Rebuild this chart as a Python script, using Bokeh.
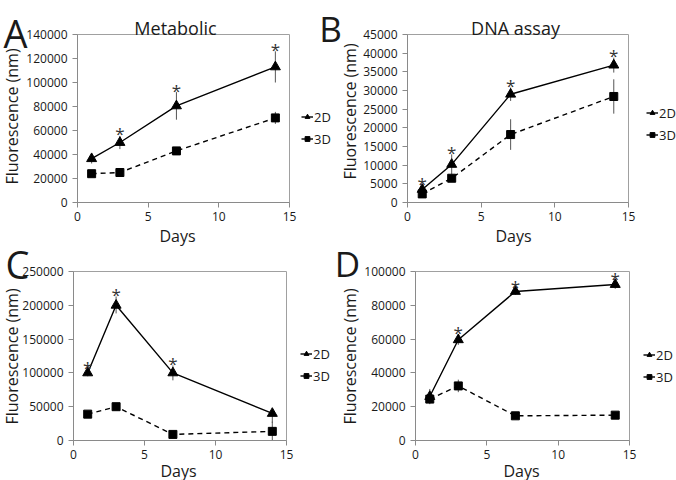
import math
from bokeh.plotting import figure
from bokeh.models import (Range1d, FixedTicker, BasicTickFormatter, Label, Legend,
                          LegendItem, GridBox)
from bokeh.layouts import column, row
from bokeh.embed import file_html
from bokeh.resources import INLINE
from bokeh.core.properties import value

FONT = "Open Sans"
NAN = float("nan")

# ---------------- data ----------------
days = [1, 3, 7, 14]
x_ticks = [0, 5, 10, 15]

# A: Metabolic
A_2d = [36500, 50000, 80500, 113000]
A_2d_err = [4000, 5500, 11500, 13000]
A_3d = [24000, 25000, 43000, 70500]
A_3d_err = [2000, 3500, 2000, 5000]
A_sig = [False, True, True, True]
A_yticks = [0, 20000, 40000, 60000, 80000, 100000, 120000, 140000]

# B: DNA assay
B_2d = [3500, 10200, 29000, 36800]
B_2d_err = [1000, 2700, 1800, 2000]
B_3d = [2300, 6500, 18200, 28400]
B_3d_err = [800, 800, 4100, 4600]
B_sig = [True, True, True, True]
B_yticks = [0, 5000, 10000, 15000, 20000, 25000, 30000, 35000, 40000, 45000]

# C
C_2d = [100000, 200000, 100000, 40000]
C_2d_err_hi = [5000, 13000, 11000, 1000]
C_2d_err_lo = [5000, 12000, 11000, 14000]
C_3d = [39000, 50000, 9000, 13500]
C_3d_err = [2000, 2000, 1500, 14500]
C_sig = [True, True, True, False]
C_yticks = [0, 50000, 100000, 150000, 200000, 250000]

# D
D_2d = [26000, 59600, 88200, 92300]
D_2d_err = [4500, 3000, 2000, 2500]
D_3d = [24500, 32300, 14600, 15000]
D_3d_err = [2500, 3700, 1000, 1000]
D_sig = [False, True, True, True]
D_yticks = [0, 20000, 40000, 60000, 80000, 100000]

series_labels = ["2D", "3D"]
titles = ["Metabolic", "DNA assay"]
letters = ["A", "B", "C", "D"]
x_label = "Days"
y_label = "Fluorescence (nm)"

AXIS_GRAY = "#8a8a8a"
TEXT = "#1a1a1a"


def panel(W, H, bl, br, bt, bb, ymax, yticks, d2, lo2, hi2, d3, e3, sig):
    p = figure(width=W, height=H, x_range=Range1d(0, 15), y_range=Range1d(0, ymax),
               output_backend="svg", toolbar_location=None,
               min_border_left=bl, min_border_right=br,
               min_border_top=bt, min_border_bottom=bb)
    p.outline_line_color = "#a0a0a0"
    p.outline_line_width = 1
    p.background_fill_color = "white"
    p.border_fill_color = "white"
    p.xgrid.visible = False
    p.ygrid.visible = False
    for ax in (p.xaxis[0], p.yaxis[0]):
        ax.axis_line_color = AXIS_GRAY
        ax.major_tick_line_color = AXIS_GRAY
        ax.minor_tick_line_color = None
        ax.major_tick_in = 0
        ax.major_tick_out = 5
        ax.major_label_text_font = FONT
        ax.major_label_text_font_size = "12px"
        ax.major_label_text_color = TEXT
    p.xaxis[0].ticker = FixedTicker(ticks=x_ticks)
    p.yaxis[0].ticker = FixedTicker(ticks=yticks)
    p.yaxis[0].formatter = BasicTickFormatter(use_scientific=False)
    p.xaxis[0].major_label_standoff = 4
    p.yaxis[0].major_label_standoff = 5

    top2 = [v + h for v, h in zip(d2, hi2)]
    bot2 = [v - l for v, l in zip(d2, lo2)]
    top3 = [v + e for v, e in zip(d3, e3)]
    bot3 = [max(v - e, 0) for v, e in zip(d3, e3)]
    p.segment(x0=days, y0=bot2, x1=days, y1=top2, line_color="#555555", line_width=1)
    p.segment(x0=days, y0=bot3, x1=days, y1=top3, line_color="#555555", line_width=1)

    p.line(days, d3, line_color="black", line_width=1.4, line_dash="5 4")
    p.line(days, d2, line_color="black", line_width=1.4)
    p.scatter(days, d3, marker="square", size=8, fill_color="black", line_color="black")
    p.scatter(days, d2, marker="triangle", size=10, fill_color="black", line_color="black")

    sx = [d for d, s in zip(days, sig) if s]
    sy = [t for t, s in zip(top2, sig) if s]
    p.text(x=sx, y=sy, text=["*"] * len(sx), text_font=value(FONT),
           text_font_size="17px", text_align="center", text_baseline="middle",
           y_offset=-2, text_color="#333333")
    return p


# frames (page px): A 77..289 x 34..203, B 407..628 x 33..202,
#                   C 73..286 x 271..440, D 415..629 x 271..440
pA = panel(338, 237, 77, 49, 34, 34, 140000, A_yticks, A_2d, A_2d_err, A_2d_err,
           A_3d, A_3d_err, A_sig)
pB = panel(338, 237, 69, 48, 33, 35, 45000, B_yticks, B_2d, B_2d_err, B_2d_err,
           B_3d, B_3d_err, B_sig)
pC = panel(338, 243, 73, 52, 34, 40, 250000, C_yticks, C_2d, C_2d_err_lo, C_2d_err_hi,
           C_3d, C_3d_err, C_sig)
pD = panel(338, 243, 77, 47, 34, 40, 100000, D_yticks, D_2d, D_2d_err, D_2d_err,
           D_3d, D_3d_err, D_sig)

# ---------- transparent text layer over the whole page (pixel coordinates) ----------
ov = figure(width=676, height=480, x_range=Range1d(0, 676), y_range=Range1d(480, 0),
            x_axis_type=None, y_axis_type=None, min_border=0,
            output_backend="svg", toolbar_location=None)
ov.outline_line_color = None
ov.background_fill_color = None
ov.border_fill_color = None
ov.grid.visible = False


def lab(x, y, text, size, angle=0.0, align="left", baseline="alphabetic"):
    ov.add_layout(Label(x=x, y=y, text=text, text_font=FONT, text_font_size=size,
                        text_color=TEXT, angle=angle, text_align=align,
                        text_baseline=baseline))


lab(175, 27, titles[0], "18px", align="center")
lab(515, 27, titles[1], "18px", align="center")

lab(3, 32, letters[0], "38px")
lab(330, 28, letters[1], "35px", align="center")
lab(5, 263, letters[2], "38px")
lab(347, 263, letters[3], "35px", align="center")

for (cx, cy) in [(11, 116), (349, 111), (11, 356), (349, 356)]:
    lab(cx, cy, y_label, "16px", angle=math.pi / 2, align="center", baseline="middle")
for (cx, by) in [(177, 235), (513, 235), (178, 470), (521, 470)]:
    lab(cx, by, x_label, "16px", align="center")

# legends: proxy renderers hold a single NaN point so only the legend glyph shows
for (lx, top) in [(301, 106), (646, 102), (300, 343), (643, 344)]:
    l2 = ov.line([NAN], [NAN], line_color="black", line_width=1.4)
    m2 = ov.scatter([NAN], [NAN], marker="triangle", size=8, fill_color="black", line_color="black")
    l3 = ov.line([NAN], [NAN], line_color="black", line_width=1.4)
    m3 = ov.scatter([NAN], [NAN], marker="square", size=6, fill_color="black", line_color="black")
    leg = Legend(items=[LegendItem(label=series_labels[0], renderers=[l2, m2]),
                        LegendItem(label=series_labels[1], renderers=[l3, m3])],
                 location=(lx, 480 - (top + 43)), margin=0, padding=0, spacing=1,
                 glyph_width=12, glyph_height=21, label_height=21,
                 label_standoff=1, border_line_color=None,
                 background_fill_alpha=0,
                 label_text_font=FONT, label_text_font_size="13px",
                 label_text_color=TEXT)
    ov.add_layout(leg)

panels = column(row(pA, pB), row(pC, pD))
layout = GridBox(children=[(panels, 0, 0), (ov, 0, 0)])
open("out.html", "w").write(file_html(layout, INLINE))
